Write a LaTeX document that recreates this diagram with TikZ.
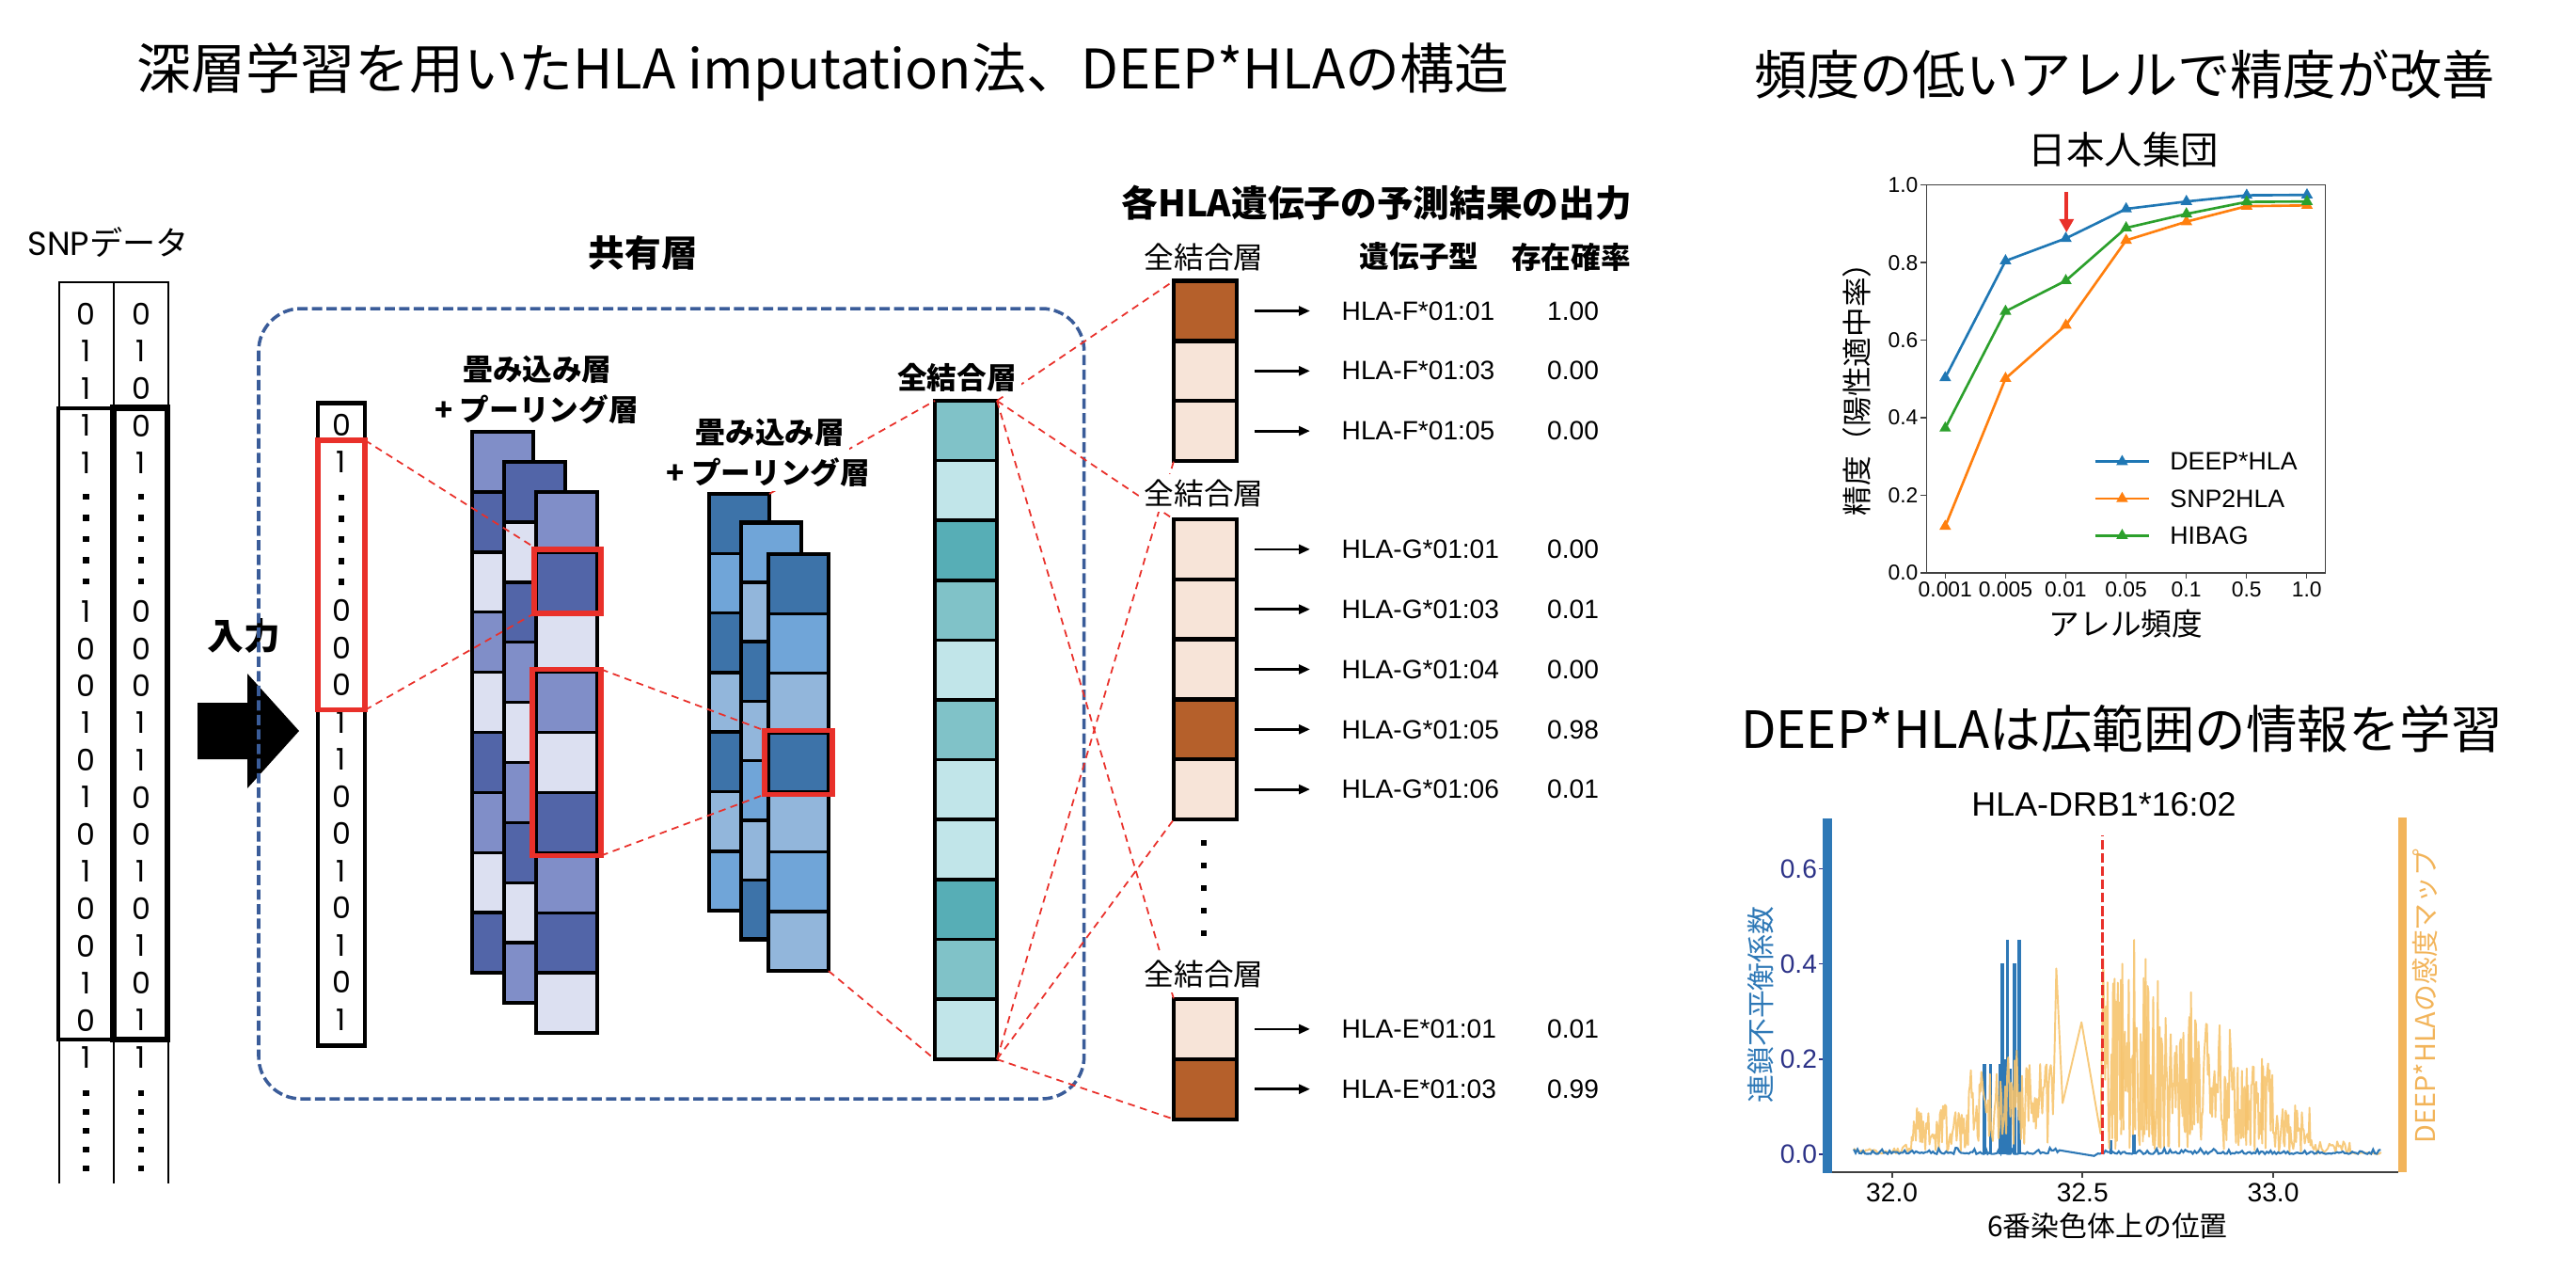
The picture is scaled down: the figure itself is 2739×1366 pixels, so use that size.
\documentclass[tikz,border=0pt]{standalone}
\usepackage{fontspec}
\setmainfont{Noto Sans CJK JP}
\newfontfamily\latf{Liberation Sans}
\newfontfamily\geof{Poppins}
\usetikzlibrary{arrows.meta,plotmarks}

\definecolor{convdark}{RGB}{82,101,168}
\definecolor{convmid}{RGB}{128,142,200}
\definecolor{convlight}{RGB}{220,224,241}
\definecolor{pooldark}{RGB}{61,115,169}
\definecolor{poolmid}{RGB}{112,165,216}
\definecolor{poollight}{RGB}{146,182,219}
\definecolor{fcdark}{RGB}{87,174,182}
\definecolor{fcmid}{RGB}{128,194,200}
\definecolor{fclight}{RGB}{193,229,233}
\definecolor{outdark}{RGB}{181,96,43}
\definecolor{outlight}{RGB}{247,228,216}
\definecolor{hlred}{RGB}{233,48,42}
\definecolor{sharedblue}{RGB}{58,92,153}
\definecolor{mplblue}{RGB}{31,119,180}
\definecolor{mplorange}{RGB}{255,127,14}
\definecolor{mplgreen}{RGB}{44,160,44}
\definecolor{ldblue}{RGB}{46,120,182}
\definecolor{salorange}{RGB}{246,196,110}
\definecolor{salbar}{RGB}{242,180,90}
\definecolor{ticknavy}{RGB}{44,50,135}

\tikzset{
  cell/.style={draw=black, line width=1pt},
  sheetframe/.style={draw=black, line width=1.3pt, inner sep=0pt, outer sep=0pt, anchor=north west},
  redbox/.style={draw=hlred, line width=1.5pt, inner sep=0pt, outer sep=0pt},
  reddash/.style={draw=hlred, line width=0.5pt, dash pattern=on 2.2pt off 1.6pt},
  snpline/.style={draw=black, line width=0.6pt},
  bit/.style={font=\geof\fontsize{9}{9}\selectfont, inner sep=0pt},
  sqdot/.style={fill=black, minimum size=1.9pt, inner sep=0pt},
  layerlabel/.style={font=\bfseries\fontsize{9}{10}\selectfont, fill=white, inner sep=1.5pt},
  outcell/.style={draw=black, line width=1.2pt, minimum width=0.667cm, minimum height=0.638cm, inner sep=0pt, outer sep=0pt},
  hlalabel/.style={font=\latf\fontsize{8}{9}\selectfont, anchor=west, inner sep=0pt},
  prob/.style={font=\latf\fontsize{8}{9}\selectfont, inner sep=0pt},
  outarrow/.style={-{Triangle[length=3.4pt, width=2.8pt]}, line width=0.8pt},
  bigtitle/.style={font=\fontsize{16.5}{18}\selectfont, inner sep=0pt},
  axisline/.style={draw=black!75, line width=0.4pt},
  ticklab/.style={font=\latf\fontsize{6.5}{7}\selectfont, inner sep=0pt},
  acccurve/.style={line width=0.75pt, mark=triangle*, mark size=1.3pt, mark options={solid}},
  ldline/.style={draw=ldblue, line width=0.6pt},
  ldspike/.style={draw=ldblue, line width=1pt},
  salline/.style={draw=salorange, line width=0.55pt, opacity=0.9, line join=round},
}

\begin{document}
\begin{tikzpicture}[x=0.01cm, y=-0.01cm]
  \useasboundingbox (0,0) rectangle (2739,1366);

  \node (title) [bigtitle] at (875,77) {深層学習を用いたHLA imputation法、DEEP*HLAの構造};
  \node (freqtitle) [bigtitle, font=\fontsize{16}{18}\selectfont] at (2259,79) {頻度の低いアレルで精度が改善};
  \node (widetitle) [bigtitle, font=\fontsize{15.5}{18}\selectfont] at (2256,775) {DEEP*HLAは広範囲の情報を学習};

  \node (snp) [font=\fontsize{10}{12}\selectfont, inner sep=0pt] at (115,258) {{\geof SNP}データ};
  \draw[snpline] (62.7,1258) -- (62.7,299.6) -- (179.3,299.6) -- (179.3,1258);
  \draw[snpline] (120.7,299.6) -- (120.7,1258);
  \draw[line width=1.1pt] (61.5,433.6) rectangle (119,1105);
  \draw[line width=1.8pt] (120.5,433.6) rectangle (178,1105);
  \foreach \a/\b [count=\k from 0] in {0/0,1/1,1/0,1/0,1/1} {
    \node (sa\k) [bit] at (91.7,334+39.5*\k) {\a};
    \node (sb\k) [bit] at (150,334+39.5*\k) {\b};
  }
  \foreach \a/\b [count=\k from 8] in {1/0,0/0,0/0,1/1,0/1,1/0,0/0,1/1,0/0,0/1,1/0,0/1,1/1} {
    \node (sa\k) [bit] at (91.7,334+39.5*\k) {\a};
    \node (sb\k) [bit] at (150,334+39.5*\k) {\b};
  }
  \foreach \j in {0,...,4} {
    \node (sda\j) [sqdot] at (91.7,528+22.5*\j) {};
    \node (sdb\j) [sqdot] at (150,528+22.5*\j) {};
    \node (sea\j) [sqdot] at (91.7,1162+20*\j) {};
    \node (seb\j) [sqdot] at (150,1162+20*\j) {};
  }

  \node (inlab) [font=\bfseries\fontsize{11}{12}\selectfont, inner sep=0pt] at (259.5,676) {入力};
  \fill (210,747) -- (263,747) -- (263,716) -- (318,777) -- (263,838) -- (263,807) -- (210,807) -- cycle;

  \draw[sharedblue, line width=1pt, dash pattern=on 3.1pt off 1.3pt, rounded corners=12.8pt]
    (275,328) rectangle (1152.7,1168);
  \node (sharedlab) [font=\bfseries\fontsize{11}{12}\selectfont, inner sep=0pt] at (684,268.5) {共有層};

  \node (inp) [sheetframe, line width=1.4pt, minimum width=0.5cm, minimum height=6.82cm] at (338,428.7) {};
  \foreach \v [count=\k from 0] in {0,1} {
    \node (ia\k) [bit] at (363,451.6+39.5*\k) {\v};
  }
  \foreach \v [count=\k from 5] in {0,0,0,1,1,0,0,1,0,1,0,1} {
    \node (ia\k) [bit] at (363,451.6+39.5*\k) {\v};
  }
  \foreach \j in {0,...,4} {
    \node (idot\j) [sqdot] at (363,529+22.4*\j) {};
  }

  \foreach \nm/\x/\y/\w/\h/\cols in {
      c1a/502/459/65/63.9/{convmid,convdark,convlight,convmid,convlight,convdark,convmid,convlight,convdark},
      c1b/536/491/65/63.9/{convdark,convlight,convdark,convmid,convlight,convmid,convdark,convlight,convmid},
      c1c/570/523/65/63.9/{convmid,convdark,convlight,convmid,convlight,convdark,convmid,convdark,convlight},
      c2a/754/525/64/63.3/{pooldark,poolmid,pooldark,poollight,pooldark,poollight,poolmid},
      c2b/788/555.5/64/63.3/{poolmid,poollight,pooldark,poollight,poolmid,poollight,pooldark},
      c2c/817/589/64/63.3/{pooldark,poolmid,poollight,pooldark,poollight,poolmid,poollight}} {
    \foreach \c [count=\i from 0] in \cols {
      \filldraw[cell, fill=\c] (\x,{\y+\h*\i}) rectangle ++(\w,\h);
      \xdef\ncell{\i}
    }
    \node (\nm) [sheetframe, minimum width=\w*0.01cm, minimum height={(\ncell+1)*\h*0.01cm}] at (\x,\y) {};
  }

  \foreach \c [count=\i from 0] in {fcmid,fclight,fcdark,fcmid,fclight,fcmid,fclight,fclight,fcdark,fcmid,fclight} {
    \filldraw[cell, fill=\c] (994,{426+63.6*\i}) rectangle ++(66,63.6);
  }
  \node (fc) [sheetframe, minimum width=0.66cm, minimum height=6.996cm] at (994,426) {};

  \foreach \nm/\y/\fc/\lab/\val in {
      f1/330.5/outdark/HLA-F*01:01/1.00, f2/394.3/outlight/HLA-F*01:03/0.00, f3/458.1/outlight/HLA-F*01:05/0.00,
      g1/583.9/outlight/HLA-G*01:01/0.00, g2/647.7/outlight/HLA-G*01:03/0.01, g3/711.5/outlight/HLA-G*01:04/0.00,
      g4/775.3/outdark/HLA-G*01:05/0.98, g5/839.1/outlight/HLA-G*01:06/0.01,
      e1/1093.9/outlight/HLA-E*01:01/0.01, e2/1157.7/outdark/HLA-E*01:03/0.99} {
    \node (\nm) [outcell, fill=\fc] at (1281.4,\y) {};
    \node (\nm-lab) [hlalabel] at (1426,\y) {\lab};
    \node (\nm-val) [prob] at (1672.6,\y) {\val};
    \draw[outarrow] ([xshift=0.19cm]\nm.east) -- ([xshift=-0.33cm]\nm-lab.west);
  }
  \foreach \j in {0,...,4} {
    \node (odot\j) [sqdot] at (1280,896+24*\j) {};
  }
  \node (outtitle) [font=\bfseries\fontsize{11}{12}\selectfont, inner sep=0pt] at (1463.6,216) {各HLA遺伝子の予測結果の出力};
  \node (genohead) [font=\bfseries\fontsize{9}{10}\selectfont, inner sep=0pt] at (1509,273) {遺伝子型};
  \node (probhead) [font=\bfseries\fontsize{9}{10}\selectfont, inner sep=0pt] at (1670.5,273) {存在確率};

  \node (inred) [redbox, minimum width=0.5cm, minimum height=2.867cm] at (363,611.4) {};
  \draw[reddash] (inred.north east) -- (570,583);
  \draw[reddash] (inred.south east) -- (570,651);
  \node (r1) [redbox, minimum width=0.71cm, minimum height=0.68cm] at (603.5,618) {};
  \node (r2) [redbox, minimum width=0.73cm, minimum height=1.98cm] at (602.5,810.5) {};
  \node (r3) [redbox, minimum width=0.72cm, minimum height=0.68cm] at (849,810.5) {};
  \draw[reddash] (r2.north east) -- (r3.north west);
  \draw[reddash] (r2.south east) -- (r3.south west);
  \draw[reddash] (c2a.north east) -- (fc.north west);
  \draw[reddash] (c2c.south east) -- (fc.south west);
  \draw[reddash] (fc.north east) -- (f1.north west);
  \draw[reddash] (fc.north east) -- (g1.north west);
  \draw[reddash] (fc.north east) -- (e1.north west);
  \draw[reddash] (fc.south east) -- (f3.south west);
  \draw[reddash] (fc.south east) -- (g5.south west);
  \draw[reddash] (fc.south east) -- (e2.south west);

  \node (c1lab) [layerlabel] at (571.5,392.7) {畳み込み層};
  \node (c1lab2) [layerlabel] at (570.5,435) {+ プーリング層};
  \node (c2lab) [layerlabel] at (819,460) {畳み込み層};
  \node (c2lab2) [layerlabel] at (817,501.7) {+ プーリング層};
  \node (fclab) [layerlabel] at (1017.5,401) {全結合層};
  \node (flab) [layerlabel, font=\fontsize{9}{10}\selectfont] at (1280,273) {全結合層};
  \node (glab) [layerlabel, font=\fontsize{9}{10}\selectfont] at (1280,524) {全結合層};
  \node (elab) [layerlabel, font=\fontsize{9}{10}\selectfont] at (1280,1035) {全結合層};

  \node (jptitle) [font=\fontsize{11.5}{13}\selectfont, inner sep=0pt] at (2258,159) {日本人集団};
  \draw[axisline] (2048.3,196.7) rectangle (2472.3,609);
  \foreach \lab [count=\i from 0] in {0.0,0.2,0.4,0.6,0.8,1.0} {
    \draw[axisline] (2048.3,609-82.46*\i) -- (2042,609-82.46*\i);
    \node (acc\i) [ticklab, anchor=east] at (2040,609-82.46*\i) {\lab};
  }
  \foreach \lab [count=\i from 0] in {0.001,0.005,0.01,0.05,0.1,0.5,1.0} {
    \draw[axisline] (2068.3+64.07*\i,609) -- (2068.3+64.07*\i,615);
    \node (frq\i) [ticklab] at (2068.3+64.07*\i,627) {\lab};
  }
  \node (accaxis) [rotate=90, font=\fontsize{9}{10}\selectfont, inner sep=0pt] at (1974.6,406) {精度（陽性適中率）};
  \node (frqaxis) [font=\fontsize{9.3}{10}\selectfont, inner sep=0pt] at (2260.6,663) {アレル頻度};
  \begin{scope}[shift={(2068.3,609)}, x=0.6407cm, y=4.123cm]
    \draw[acccurve, mplblue] plot coordinates {(0,0.503) (1,0.804) (2,0.862) (3,0.938) (4,0.957) (5,0.973) (6,0.974)};
    \draw[acccurve, mplorange] plot coordinates {(0,0.12) (1,0.501) (2,0.638) (3,0.857) (4,0.905) (5,0.945) (6,0.947)};
    \draw[acccurve, mplgreen] plot coordinates {(0,0.373) (1,0.674) (2,0.753) (3,0.889) (4,0.925) (5,0.956) (6,0.957)};
  \end{scope}
  \foreach \nm/\y/\col in {DEEP*HLA/490.7/mplblue, SNP2HLA/530/mplorange, HIBAG/569.3/mplgreen} {
    \draw[acccurve, \col, mark indices={2}] plot coordinates {(2227.7,\y) (2256.4,\y) (2285,\y)};
    \node [font=\latf\fontsize{7.6}{9}\selectfont, anchor=west, inner sep=0pt] at (2306.7,\y) {\nm};
  }
  \coordinate (arrtail) at (2197.3,204);
  \coordinate (arrtip) at (2197.3,247);
  \draw[hlred, line width=1.1pt, -{Triangle[length=4pt, width=4.2pt]}] (arrtail) -- (arrtip);

  \node (drbtitle) [font=\latf\fontsize{10.2}{12}\selectfont, inner sep=0pt] at (2237,855) {HLA-DRB1*16:02};
  \fill[ldblue] (1938,870) rectangle (1948,1246.7);
  \fill[salbar] (2549.5,869) rectangle (2559.4,1246);
  \draw[black!75, line width=0.8pt] (1948,1246) -- (2549.5,1246);
  \foreach \lab [count=\i from 0] in {0.0,0.2,0.4,0.6} {
    \draw[ticknavy, line width=0.5pt] (1934,1226.7-101.1*\i) -- (1938,1226.7-101.1*\i);
    \node (ld\i) [font=\latf\fontsize{8}{9}\selectfont, text=ticknavy, anchor=east, inner sep=0pt] at (1932.6,1226.7-101.1*\i) {\lab};
  }
  \foreach \lab [count=\i from 0] in {32.0,32.5,33.0} {
    \draw[black!75, line width=0.6pt] (2011.6+202.7*\i,1246) -- (2011.6+202.7*\i,1252);
    \node (pos\i) [font=\latf\fontsize{8}{9}\selectfont, inner sep=0pt] at (2011.6+202.7*\i,1267.5) {\lab};
  }
  \node (ldaxis) [rotate=90, text=ldblue, font=\fontsize{8.5}{10}\selectfont, inner sep=0pt] at (1872.5,1068) {連鎖不平衡係数};
  \node (salaxis) [rotate=90, text=salbar, font=\fontsize{8.2}{10}\selectfont, inner sep=0pt] at (2578,1059) {DEEP*HLAの感度マップ};
  \node (posaxis) [font=\fontsize{8.5}{10}\selectfont, inner sep=0pt] at (2241,1303) {6番染色体上の位置};
  \begin{scope}[shift={(2011.6,1226.7)}, x=4.054cm, y=5.055cm]
    \pgfmathsetseed{11}
    \foreach \p/\v in {0.242/0.19,0.259/0.19,0.285/0.19,0.289/0.4,0.294/0.2,0.303/0.45,0.309/0.18,0.321/0.4,0.334/0.45,0.574/0.03,0.635/0.04}
      \draw[ldspike] (\p,0) -- (\p,\v);
    \draw[salline] plot[domain=-0.1:0, samples=20] (\x,{0.012*rnd})
      -- plot[domain=0.002:0.05, samples=12] (\x,{0.025*rnd})
      -- plot[domain=0.052:0.2, samples=55] (\x,{0.005+0.1*rnd})
      -- plot[domain=0.202:0.3, samples=40] (\x,{0.02+0.16*rnd})
      -- plot[domain=0.302:0.425, samples=45] (\x,{0.02+0.22*rnd})
      -- (0.431,0.39) -- (0.4475,0.107) -- (0.497,0.277) -- (0.547,0.043) -- (0.554,0.41)
      -- plot[domain=0.557:0.7, samples=70] (\x,{0.01+0.36*rnd})
      -- plot[domain=0.702:0.9, samples=90] (\x,{0.01+0.28*rnd})
      -- plot[domain=0.902:1.0, samples=45] (\x,{0.005+0.19*rnd})
      -- plot[domain=1.002:1.1, samples=40] (\x,{0.003+0.1*rnd})
      -- plot[domain=1.102:1.2, samples=25] (\x,{0.03*rnd})
      -- plot[domain=1.202:1.283, samples=12] (\x,{0.005*rnd});
    \foreach \p/\v in {0.604/0.40,0.635/0.45,0.665/0.41,0.685/0.33,0.784/0.34,0.93/0.18,0.97/0.2}
      \draw[salline] (\p-0.003,0.04) -- (\p,\v) -- (\p+0.003,0.05);
    \draw[ldline] plot[domain=-0.1:0.44, samples=110] (\x,{0.014*rnd*rnd})
      -- (0.53,-0.004)
      -- plot[domain=0.54:1.283, samples=150] (\x,{0.012*rnd*rnd});
    \draw[hlred, line width=0.8pt, dash pattern=on 3pt off 1pt] (0.552,0) -- (0.552,0.67);
  \end{scope}
\end{tikzpicture}
\end{document}
